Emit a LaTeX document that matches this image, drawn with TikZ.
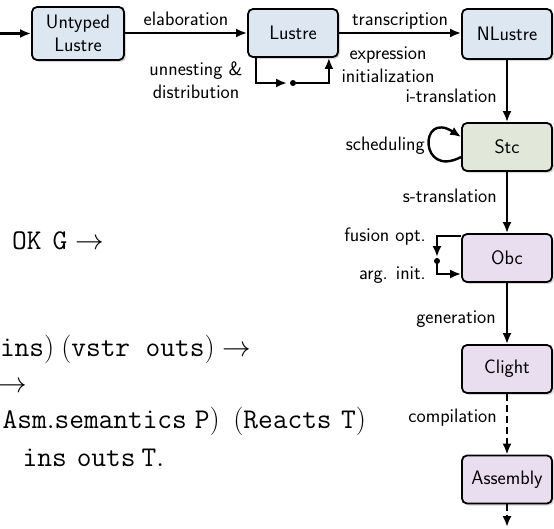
\documentclass[tikz,border=0pt]{standalone}
\usetikzlibrary{arrows.meta,shadows}
\definecolor{frontfill}{RGB}{221,231,242}
\definecolor{stcfill}{RGB}{225,231,217}
\definecolor{backfill}{RGB}{233,221,240}
\newcommand\sansfont{\sffamily\fontsize{19.5}{23}\selectfont}
% gaps in the statement, given in final (scaled) points
\newcommand\cg[1]{\hspace{\dimexpr #1pt*87/100\relax}}
\tikzset{
  lang/.style={draw=black, line width=1.8pt, rounded corners=5pt,
    minimum width=90pt, minimum height=48pt, inner sep=0pt, align=center,
    font=\sansfont,
    drop shadow={opacity=0.3, shadow xshift=2pt, shadow yshift=-2pt}},
  pass/.style={line width=2.4pt, -{Latex[length=11pt,width=9pt]}},
  lbl/.style={font=\sansfont, inner sep=0pt, text depth=0pt},
  junction/.style={circle, fill=black, inner sep=0pt, minimum size=6pt},
  coqline/.style={font=\rmfamily\fontsize{24.88}{30}\selectfont, anchor=base west,
    inner sep=0pt, scale=1.149, transform shape},
  dashedflow/.style={dash pattern=on 7pt off 4pt},
}
\begin{document}
\begin{tikzpicture}[x=1pt,y=-1pt]
\useasboundingbox (0,0) rectangle (554,528);
\clip (0,0) rectangle (554,528);

% compiler passes: languages
\node[lang, fill=frontfill, minimum width=92pt, minimum height=53pt] (untyped) at (78,33.5) {Untyped\\Lustre};
\node[lang, fill=frontfill] (lustre) at (293,33) {Lustre};
\node[lang, fill=frontfill, minimum height=50pt] (nlustre) at (507,34) {NLustre};
\node[lang, fill=stcfill] (stc) at (507,147) {Stc};
\node[lang, fill=backfill] (obc) at (507,258) {Obc};
\node[lang, fill=backfill] (clight) at (507,369) {Clight};
\node[lang, fill=backfill] (asm) at (507,479.5) {Assembly};

% front end
\coordinate (entry) at (0,33.5);
\draw[pass] (entry) -- (untyped.west);
\draw[pass] (untyped.east |- lustre.west) -- (lustre.west)
  node[lbl, midway, above=6pt] {elaboration};
\draw[pass] (lustre.east) -- (lustre.east -| nlustre.west)
  node[lbl, midway, above=6pt] {transcription};

% Lustre-to-Lustre passes
\node[junction] (ldot) at (293,83) {};
\draw[pass] ([xshift=9pt]lustre.south west) |- ([xshift=-6pt]ldot.center);
\draw[pass] (ldot.center) -| ([xshift=-10pt]lustre.south east);
\node[lbl, align=center] (unnest) at (196,80) {unnesting \&\\distribution};
\node[lbl, align=center] (exprinit) at (388,65) {expression\\initialization};

% back end
\draw[pass] (nlustre) -- (stc);
\node[lbl, anchor=east] (itr) at (497,96) {i-translation};
\draw[pass] ([yshift=-10pt]stc.west) .. controls +(-42,22) and +(-42,-27) .. ([yshift=10pt]stc.west);
\node[lbl, anchor=east] (sched) at (425,144) {scheduling};
\draw[pass] (stc) -- (obc);
\node[lbl, anchor=east] (str) at (497,196) {s-translation};
\node[junction] (odot) at (437,261) {};
\draw[pass] ([yshift=-3pt]obc.north west) -| ([yshift=4pt]odot.center);
\draw[pass] (odot.center) |- ([yshift=-16pt]obc.west);
\node[lbl, anchor=east] (fusion) at (426,234.5) {fusion opt.};
\node[lbl, anchor=east] (arginit) at (426,273.5) {arg. init.};
\draw[pass] (obc) -- (clight);
\node[lbl, anchor=east] (gen) at (496,317) {generation};
\draw[pass, dashedflow] (clight) -- (asm);
\node[lbl, anchor=east] (comp) at (497,416) {compilation};
\coordinate (exit) at (507,527);
\draw[pass, dashedflow] (asm) -- (exit);

% correctness statement
\node[coqline] (c1) at (12,249) {$\mathtt{OK}\cg{11}\mathtt{G}\rightarrow$};
\node[coqline] (c2) at (-0.2,356) {$\mathtt{ins})\cg{7}(\mathtt{vstr}\cg{15.5}\mathtt{outs})\rightarrow$};
\node[coqline] (c3) at (-1.7,392) {$\rightarrow$};
\node[coqline] (c4) at (2.5,428) {$\mathtt{Asm.semantics}\cg{8}\mathtt{P})\cg{13.5}(\mathtt{Reacts}\cg{9.5}\mathtt{T})$};
\node[coqline] (c5) at (22.5,466) {$\mathtt{ins}\cg{10}\mathtt{outs}\cg{6}\mathtt{T}.$};
\end{tikzpicture}
\end{document}
